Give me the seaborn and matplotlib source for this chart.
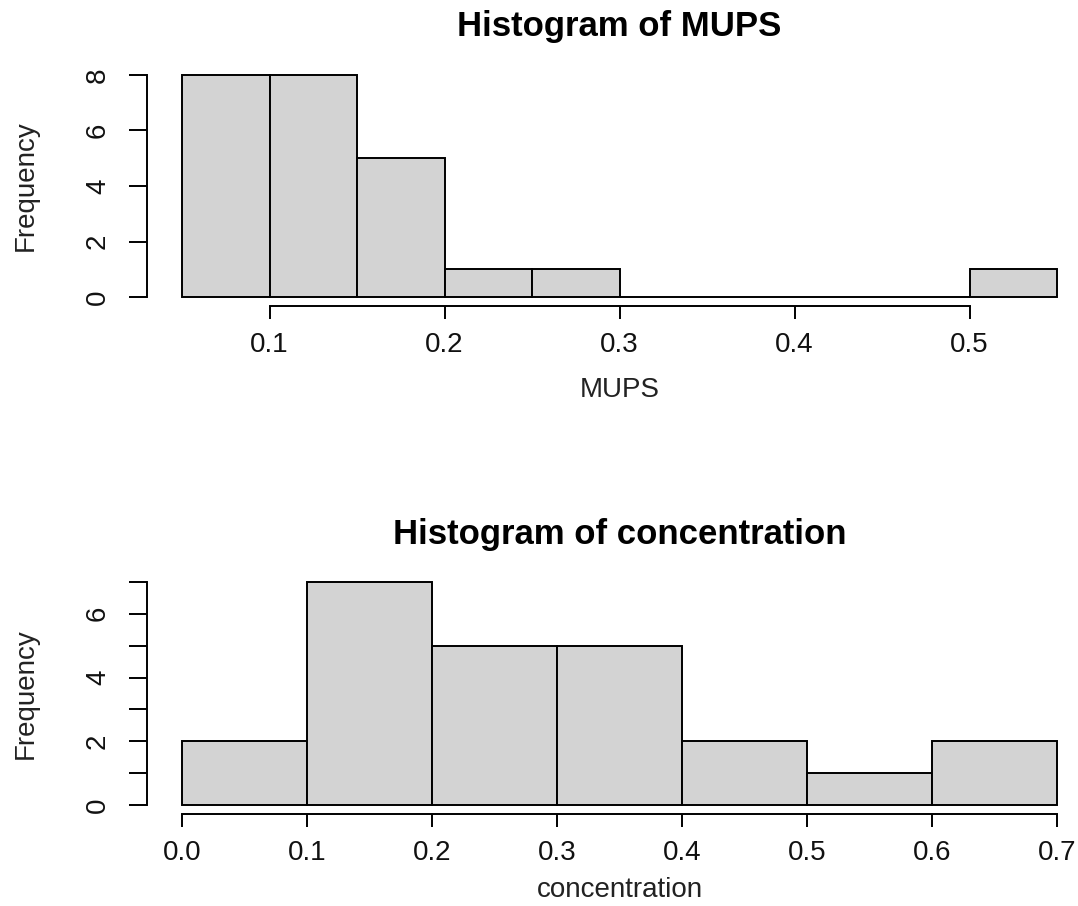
import numpy as np
import pandas as pd
import matplotlib
matplotlib.use("Agg")
import matplotlib.pyplot as plt
import seaborn as sns

# Bin edges and counts for each histogram
mups_edges = [0.05, 0.10, 0.15, 0.20, 0.25, 0.30, 0.35, 0.40, 0.45, 0.50, 0.55]
mups_counts = [8, 8, 5, 1, 1, 0, 0, 0, 0, 1]
mups_xticks = [0.1, 0.2, 0.3, 0.4, 0.5]
mups_yticks = [0, 2, 4, 6, 8]

conc_edges = [0.0, 0.1, 0.2, 0.3, 0.4, 0.5, 0.6, 0.7]
conc_counts = [2, 7, 5, 5, 2, 1, 2]
conc_xticks = [0.0, 0.1, 0.2, 0.3, 0.4, 0.5, 0.6, 0.7]
conc_yticks = [0, 1, 2, 3, 4, 5, 6, 7]
conc_ylabels = ["0", "", "2", "", "4", "", "6", ""]

sns.set_style("white")
plt.rcParams["font.family"] = ["Liberation Sans", "DejaVu Sans"]

W, H = 1078, 906
fig = plt.figure(figsize=(W / 100, H / 100), dpi=100)


def px_axes(left, top, right, bottom):
    return fig.add_axes([left / W, 1 - bottom / H, (right - left) / W, (bottom - top) / H])


def r_hist(ax, edges, counts, xticks, yticks, ylabels, xlabel, title, title_y, xlabel_y):
    e = np.asarray(edges, dtype=float)
    df = pd.DataFrame({"mid": (e[:-1] + e[1:]) / 2, "n": counts})
    sns.histplot(data=df, x="mid", weights="n", bins=list(edges), stat="count",
                 color="#D3D3D3", edgecolor="black", linewidth=1.4,
                 alpha=1, ax=ax)
    span_x = e[-1] - e[0]
    ax.set_xlim(e[0] - 0.04 * span_x, e[-1] + 0.04 * span_x)
    ymax = max(counts)
    ax.set_ylim(-0.04 * ymax, ymax * 1.04)

    for s in ["top", "right"]:
        ax.spines[s].set_visible(False)
    for s in ["left", "bottom"]:
        ax.spines[s].set_linewidth(1.4)
        ax.spines[s].set_color("black")
    ax.spines["left"].set_bounds(yticks[0], yticks[-1])
    ax.spines["bottom"].set_bounds(xticks[0], xticks[-1])

    ax.set_xticks(xticks)
    ax.set_xticklabels([f"{v:.1f}" for v in xticks])
    ax.set_yticks(yticks)
    ax.set_yticklabels(ylabels, rotation=90, va="center")
    ax.tick_params(axis="x", length=9, width=1.4, pad=10, labelsize=20, color="black",
                   labelcolor="#111111", bottom=True)
    ax.tick_params(axis="y", length=13, width=1.4, pad=13, labelsize=20, color="black",
                   labelcolor="#111111", left=True)

    ax.set_xlabel(xlabel, fontsize=20, color="#222222")
    ax.xaxis.set_label_coords(0.5, xlabel_y)
    ax.set_ylabel("Frequency", fontsize=20, color="#222222")
    ax.yaxis.set_label_coords(-0.115, 0.5)
    ax.text(0.5, title_y, title, transform=ax.transAxes, ha="center", va="baseline",
            fontsize=25, fontweight="bold", color="black")
    ax.grid(False)


ax1 = px_axes(147, 66, 1092, 306)
r_hist(ax1, mups_edges, mups_counts, mups_xticks, mups_yticks,
       [str(v) for v in mups_yticks], "MUPS", "Histogram of MUPS", 1.125, -0.295)

ax2 = px_axes(147, 573, 1092, 814)
r_hist(ax2, conc_edges, conc_counts, conc_xticks, conc_yticks,
       conc_ylabels, "concentration", "Histogram of concentration", 1.12, -0.26)

fig.savefig("out.png", dpi=100, facecolor="white")
